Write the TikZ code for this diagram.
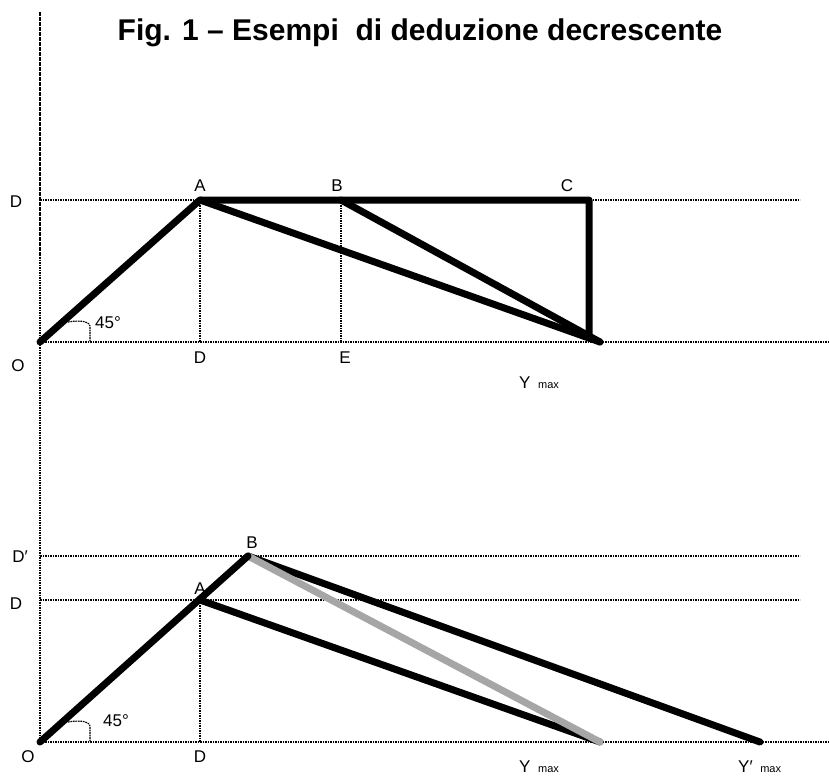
\documentclass[tikz,border=0pt]{standalone}
\usepackage{fontspec}
\setmainfont{Liberation Sans}
\begin{document}
\begin{tikzpicture}[x=1pt,y=-1pt,
  axis/.style={line width=1.4pt,dash pattern=on 1.6pt off 0.9pt},
  thick line/.style={line width=7pt,line cap=round,line join=round},
  lbl/.style={font=\fontsize{17}{19}\selectfont,inner sep=0pt},
  arcline/.style={line width=1.2pt,dash pattern=on 1.6pt off 0.9pt}]
\useasboundingbox (0,0) rectangle (829,778);
% title
\node[font=\bfseries\fontsize{30}{33}\selectfont,inner sep=0pt] (title) at (420,33) {Fig. 1 -- Esempi \ di deduzione decrescente};
% ===== top panel =====
\coordinate (O1) at (40,342);
\coordinate (A1) at (200,200);
\coordinate (B1) at (341,200);
\coordinate (C1) at (589,200);
\coordinate (Cb) at (589,338);
\coordinate (Y1) at (600,342);
\coordinate (D1) at (200,342);
\coordinate (E1) at (341,342);
\coordinate (axtop) at (40,12);
\coordinate (axbot) at (40,742);
\coordinate (h1end) at (829,342);
\coordinate (dl1s) at (40,200);
\coordinate (dl1e) at (800,200);
\draw[axis] (axtop) -- (axbot);
\draw[axis] (O1) -- (h1end);
\draw[axis] (dl1s) -- (dl1e);
\draw[axis] (A1) -- (D1);
\draw[axis] (B1) -- (E1);
\draw[thick line] (O1) -- (A1) -- (C1) -- (Cb);
\draw[thick line] (A1) -- (Y1);
\draw[thick line] (B1) -- (Y1);
\draw[arcline] (68,322) .. controls (80,320) and (91,321) .. (90,328) -- (90,342);
\node[lbl] (deg1) at (108,323) {45°};
\node[lbl] (lD1) at (16,202) {D};
\node[lbl] (lA1) at (200,186) {A};
\node[lbl] (lB1) at (337,186) {B};
\node[lbl] (lC1) at (567,186) {C};
\node[lbl] (lO1) at (18,366) {O};
\node[lbl] (lDb1) at (200,358) {D};
\node[lbl] (lE1) at (345,358) {E};
\node[lbl,anchor=base west] (lY1) at (519,388) {Y \,{\fontsize{11}{12}\selectfont max}};
% ===== bottom panel =====
\coordinate (O2) at (40,742);
\coordinate (A2) at (200,600);
\coordinate (B2) at (248,556);
\coordinate (Y2) at (600,742);
\coordinate (Yp2) at (760,742);
\coordinate (D2) at (200,742);
\coordinate (h2end) at (829,742);
\coordinate (dl2s) at (40,600);
\coordinate (dl2e) at (800,600);
\coordinate (dp2s) at (40,556);
\coordinate (dp2e) at (800,556);
\draw[axis] (O2) -- (h2end);
\draw[axis] (dl2s) -- (dl2e);
\draw[axis] (dp2s) -- (dp2e);
\draw[axis] (A2) -- (D2);
\draw[thick line] (A2) -- (Y2);
\draw[thick line] (B2) -- (Yp2);
\draw[thick line,color=black!35] (B2) -- (Y2);
\draw[thick line] (O2) -- (B2);
\draw[arcline] (68,722) .. controls (80,720) and (91,721) .. (90,728) -- (90,742);
\node[lbl] (deg2) at (116,721) {45°};
\node[lbl] (lDp2) at (20,557) {D′};
\node[lbl] (lD2) at (16,604) {D};
\node[lbl] (lB2) at (252,543) {B};
\node[lbl] (lA2) at (200,589) {A};
\node[lbl] (lO2) at (28,757) {O};
\node[lbl] (lDb2) at (200,757) {D};
\node[lbl,anchor=base west] (lY2) at (519,772) {Y \,{\fontsize{11}{12}\selectfont max}};
\node[lbl,anchor=base west] (lYp2) at (738,772) {Y′ \,{\fontsize{11}{12}\selectfont max}};
\end{tikzpicture}
\end{document}
